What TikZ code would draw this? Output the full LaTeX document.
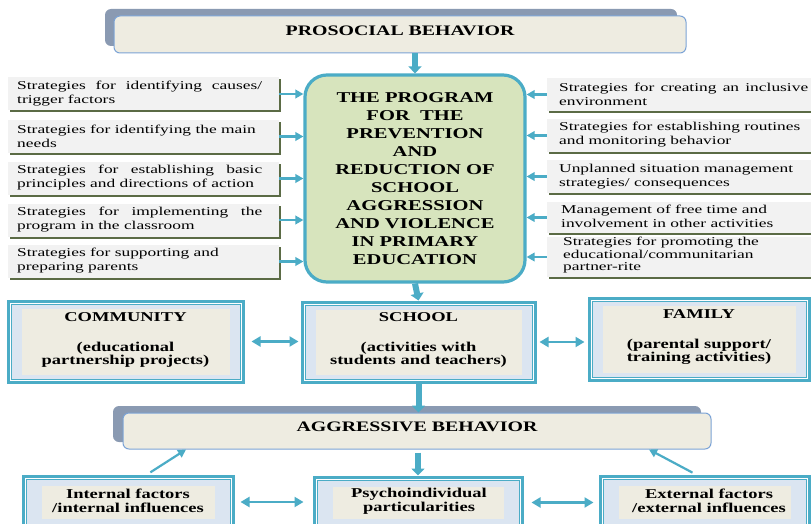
\documentclass[tikz,border=0pt]{standalone}
\usepackage{fontspec}
\setmainfont{Liberation Serif}
\newfontfamily\stratfont[FakeStretch=1.45]{Liberation Serif}
\newfontfamily\widefont[FakeStretch=1.37]{Liberation Serif}
\usetikzlibrary{arrows.meta,shadows}
\definecolor{abl}{HTML}{4BACC6}
\definecolor{progfill}{HTML}{D7E4BD}
\definecolor{beige}{HTML}{EEECE1}
\definecolor{band}{HTML}{DBE5F1}
\definecolor{shgrey}{HTML}{8A9AB2}
\definecolor{titleborder}{HTML}{7BA3D6}
\definecolor{stratfill}{HTML}{F2F2F2}
\definecolor{olivesh}{HTML}{5B6B45}
\newcommand\myframe[3]{%
  \draw[abl, line width=1pt, fill=band] ([shift={(4.5pt,4.5pt)}]#1.south west) rectangle ([shift={(-4.5pt,-4.5pt)}]#1.north east);
  \fill[beige] ([shift={(#2,#3)}]#1.south west) rectangle ([shift={(-#2,-#3)}]#1.north east);}
\tikzset{
  titlebox/.style={rectangle, rounded corners=6pt, fill=beige, draw=titleborder, line width=1pt, inner sep=0pt},
  titletext/.style={font=\widefont\bfseries\fontsize{14.5}{16}\selectfont, inner sep=0pt},
  progbox/.style={rectangle, rounded corners=22pt, fill=progfill, draw=abl, line width=3.2pt, inner sep=0pt,
    align=center, font=\widefont\bfseries\fontsize{15}{18}\selectfont},
  strat/.style={rectangle, fill=stratfill, inner sep=0pt, minimum width=271pt, minimum height=33pt,
    drop shadow={shadow xshift=2pt, shadow yshift=-2pt, fill=olivesh, opacity=1}},
  stxt/.style={font=\stratfont\fontsize{12}{14}\selectfont, align=left, inner sep=0pt, anchor=west},
  frame/.style={rectangle, draw=abl, line width=3pt, fill=white, inner sep=0pt,
    drop shadow={shadow xshift=1.5pt, shadow yshift=-1.5pt, fill=abl, opacity=1}},
  mtext/.style={font=\widefont\bfseries\fontsize{13.5}{13.5}\selectfont, align=center, inner sep=0pt},
  arr/.style={draw=abl, line width=2.2pt, -{Triangle[width=8.5pt,length=8pt]}},
  darr/.style={draw=abl, line width=2.2pt, {Triangle[width=10pt,length=9pt]}-{Triangle[width=10pt,length=9pt]}},
  bigarr/.style={draw=abl, line width=6pt, -{Triangle[width=13pt,length=7pt]}}
}
\begin{document}
\begin{tikzpicture}[x=1pt,y=-1pt]
\clip (0,0) rectangle (811,524);
\fill[white] (0,0) rectangle (811,524);

% top title
\node[titlebox, minimum width=572pt, minimum height=37pt,
  drop shadow={shadow xshift=-9pt, shadow yshift=7pt, fill=shgrey, opacity=1}] (pro) at (400,34.5) {};
\node[titletext] (protxt) at (400,31) {PROSOCIAL BEHAVIOR};

% program
\node[progbox, minimum width=220pt, minimum height=207pt] (prog) at (415,178.5)
  {THE PROGRAM\\FOR\ \ THE\\PREVENTION\\AND\\REDUCTION OF\\SCHOOL\\AGGRESSION\\AND VIOLENCE\\IN PRIMARY\\EDUCATION};

% left strategies
\node[strat] (L1) at (143.5,94) {};
\node[strat] (L2) at (143.5,136.5) {};
\node[strat] (L3) at (143.5,178.5) {};
\node[strat] (L4) at (143.5,220) {};
\node[strat] (L5) at (143.5,261.5) {};
\node[stxt] (L1t) at (17,94) {\makebox[245pt][s]{Strategies for identifying causes/}\\trigger factors};
\node[stxt] (L2t) at (17,136) {Strategies for identifying the main\\needs};
\node[stxt] (L3t) at (17,178) {\makebox[245pt][s]{Strategies for establishing basic}\\principles and directions of action};
\node[stxt] (L4t) at (17,220) {\makebox[245pt][s]{Strategies for implementing the}\\program in the classroom};
\node[stxt] (L5t) at (17,261) {Strategies for supporting and\\preparing parents};

% right strategies
\node[strat, minimum width=266pt] (R1) at (680,94.5) {};
\node[strat, minimum width=266pt] (R2) at (680,135.5) {};
\node[strat, minimum width=266pt] (R3) at (680,176.5) {};
\node[strat, minimum width=266pt, minimum height=31pt] (R4) at (680,217.5) {};
\node[strat, minimum width=266pt, minimum height=40pt] (R5) at (680,257) {};
\node[stxt] (R1t) at (559,94.5) {\makebox[249pt][s]{Strategies for creating an inclusive}\\environment};
\node[stxt] (R2t) at (559,135) {Strategies for establishing routines\\and monitoring behavior};
\node[stxt] (R3t) at (559,176.5) {Unplanned situation management\\strategies/ consequences};
\node[stxt] (R4t) at (561,216) {Management of free time and\\involvement in other activities};
\node[stxt, font=\stratfont\fontsize{12}{12.5}\selectfont] (R5t) at (563,255.5) {Strategies for promoting the\\educational/communitarian\\partner-rite};

% arrows into program
\foreach \n in {L1,L2,L3,L4,L5}{\draw[arr] (\n.east) -- (\n.east -| prog.west);}
\foreach \n in {R1,R2,R3,R4,R5}{\draw[arr] (\n.west) -- (\n.west -| prog.east);}
\draw[bigarr] (pro.south -| prog.north) -- (prog.north);

% middle row
\node[frame, minimum width=235pt, minimum height=81pt] (comm) at (125.5,341.5) {};
\myframe{comm}{15pt}{9pt}
\node[mtext] (commt) at (125.5,340) {COMMUNITY\\[16pt](educational\\partnership projects)};
\node[frame, minimum width=233pt, minimum height=80pt] (school) at (418.5,342) {};
\myframe{school}{15pt}{9pt}
\node[mtext] (schoolt) at (418.5,340) {SCHOOL\\[16pt](activities with\\students and teachers)};
\node[frame, minimum width=220pt, minimum height=82pt] (fam) at (699,339) {};
\myframe{fam}{15pt}{9pt}
\node[mtext] (famt) at (699,337.5) {FAMILY\\[16pt](parental support/\\training activities)};

\draw[bigarr] (prog.south) -- (school.north);
\draw[darr, shorten <=7pt, shorten >=2pt] (comm.east) -- (comm.east -| school.west);
\draw[darr, shorten <=3pt, shorten >=3pt] (school.east) -- (school.east -| fam.west);

% aggressive behavior
\node[titlebox, minimum width=588pt, minimum height=36pt,
  drop shadow={shadow xshift=-10pt, shadow yshift=7pt, fill=shgrey, opacity=1}] (aggr) at (417,431) {};
\node[titletext] (aggrtxt) at (417,427) {AGGRESSIVE BEHAVIOR};
\draw[bigarr] (school.south) -- (school.south |- aggr.north);

% bottom row
\node[frame, minimum width=210pt, minimum height=52pt] (int) at (128,502) {};
\myframe{int}{20pt}{11pt}
\node[mtext] (intt) at (128,501) {Internal factors\\/internal influences};
\node[frame, minimum width=208pt, minimum height=51pt] (psy) at (418,502.5) {};
\myframe{psy}{20pt}{11pt}
\node[mtext] (psyt) at (419,501) {Psychoindividual\\particularities};
\node[frame, minimum width=209pt, minimum height=52pt] (ext) at (704.5,502) {};
\myframe{ext}{20pt}{11pt}
\node[mtext] (extt) at (709,501) {External factors\\/external influences};

\draw[bigarr, shorten <=3pt] (aggr.south -| psy.north) -- (psy.north);
\draw[darr, shorten <=6pt, shorten >=9pt] (int.east) -- (int.east -| psy.west);
\draw[darr, shorten <=8pt, shorten >=5pt] (psy.east) -- (psy.east -| ext.west);
\draw[arr, shorten <=4pt] ([xshift=19pt]int.north) -- ([xshift=-231pt]aggr.south);
\draw[arr, shorten <=4pt] ([xshift=-8.5pt]ext.north) -- ([xshift=232pt]aggr.south);
\end{tikzpicture}
\end{document}
